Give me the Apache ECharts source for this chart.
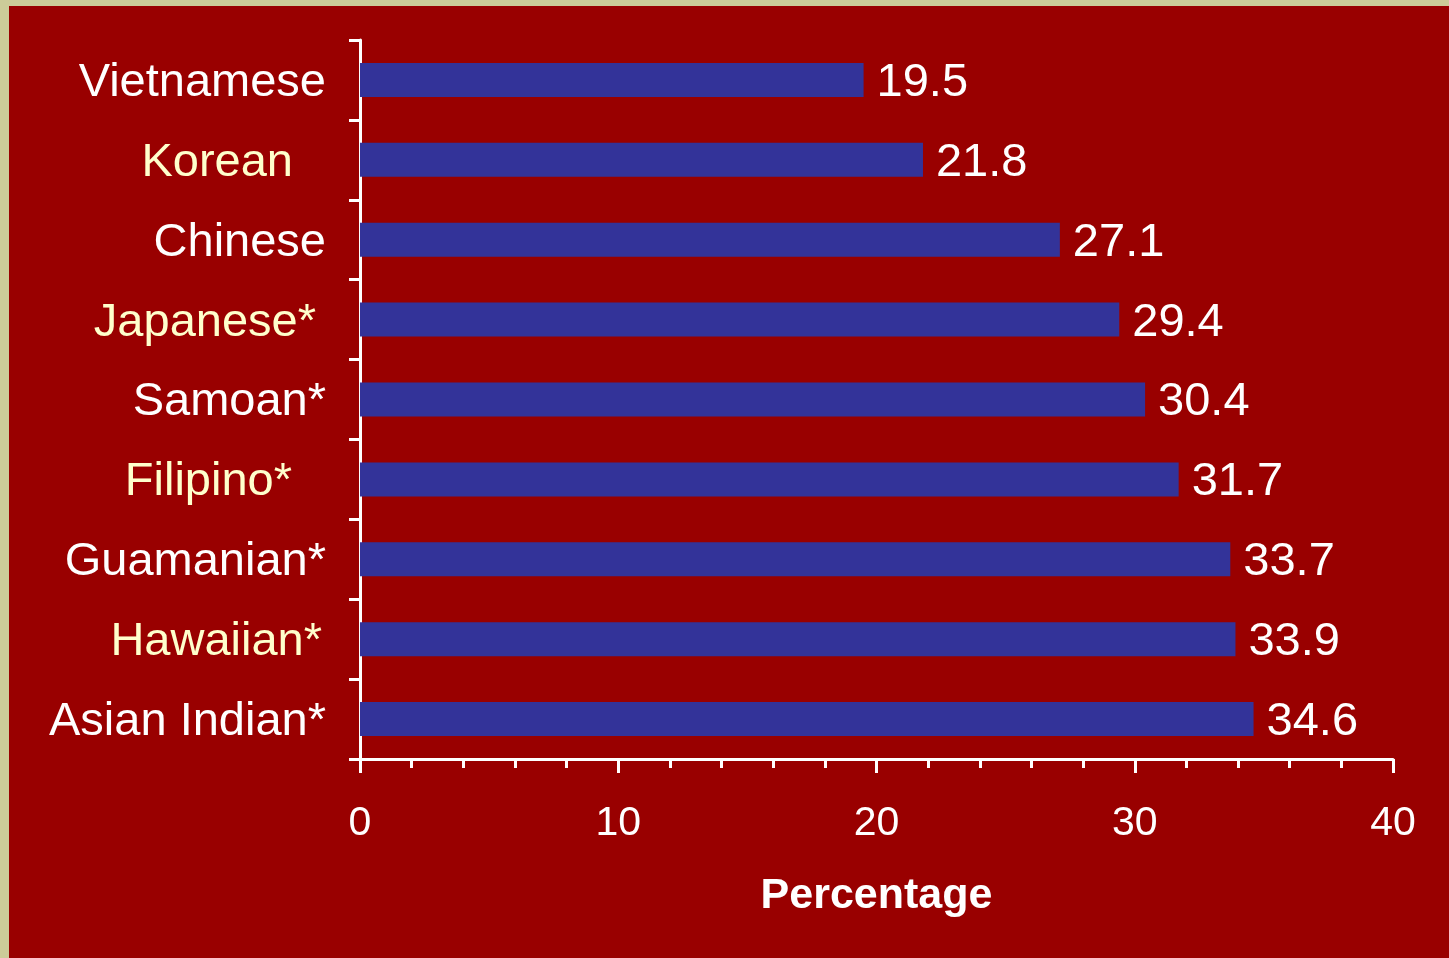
<!DOCTYPE html>
<html>
<head>
<meta charset="utf-8">
<script src="https://cdn.jsdelivr.net/npm/echarts@6/dist/echarts.min.js"></script>
<style>
  html, body { margin: 0; padding: 0; background: #CCCC99; width: 1449px; height: 958px; overflow: hidden; }
  #chart { position: absolute; left: 9px; top: 6px; width: 1440px; height: 952px; }
</style>
</head>
<body>
<div id="chart"></div>
<script>
const categories = ["Vietnamese", "Korean", "Chinese", "Japanese*", "Samoan*", "Filipino*", "Guamanian*", "Hawaiian*", "Asian Indian*"];
const values = [19.5, 21.8, 27.1, 29.4, 30.4, 31.7, 33.7, 33.9, 34.6];
const xTicks = [0, 10, 20, 30, 40];

// yellow labels sit a little left of the white ones in the original
const yellowShift = { "Korean": 33, "Japanese*": 10, "Filipino*": 34, "Hawaiian*": 4 };

const font = "Liberation Sans, Arial, sans-serif";
const chart = echarts.init(document.getElementById("chart"));

const richLabels = { w: { color: "#fff", fontSize: 47, fontFamily: font, padding: [6, 0, 0, 0] } };
Object.keys(yellowShift).forEach((c, i) => {
  richLabels["y" + i] = { color: "#FFFFCC", fontSize: 47, fontFamily: font, padding: [6, yellowShift[c], 0, 0] };
});

chart.setOption({
  backgroundColor: "#990000",
  animation: false,
  grid: { left: 351, right: 56, top: 34, bottom: 199 },
  xAxis: {
    type: "value",
    min: xTicks[0],
    max: xTicks[xTicks.length - 1],
    interval: 10,
    name: "Percentage",
    nameLocation: "middle",
    nameGap: 116,
    nameTextStyle: { color: "#fff", fontSize: 43, fontWeight: "bold", fontFamily: font },
    axisLine: { show: true, lineStyle: { color: "#fff", width: 3 } },
    axisTick: { show: true, length: 14, lineStyle: { color: "#fff", width: 3 } },
    minorTick: { show: true, splitNumber: 5, length: 9, lineStyle: { color: "#fff", width: 3 } },
    axisLabel: { color: "#fff", fontSize: 41, fontFamily: font, margin: 44 },
    splitLine: { show: false }
  },
  yAxis: {
    type: "category",
    inverse: true,
    data: categories,
    axisLine: { show: true, lineStyle: { color: "#fff", width: 3 } },
    axisTick: { show: true, length: 11, lineStyle: { color: "#fff", width: 3 } },
    axisLabel: {
      margin: 34,
      formatter: v => {
        const k = Object.keys(yellowShift).indexOf(v);
        return k >= 0 ? "{y" + k + "|" + v + "}" : "{w|" + v + "}";
      },
      rich: richLabels
    },
    splitLine: { show: false }
  },
  series: [{
    type: "bar",
    data: values,
    barWidth: 34,
    itemStyle: { color: "#333399" },
    label: {
      show: true,
      position: "right",
      distance: 13,
      offset: [0, 3],
      color: "#fff",
      fontSize: 47,
      fontFamily: font
    }
  }]
});
</script>
</body>
</html>
